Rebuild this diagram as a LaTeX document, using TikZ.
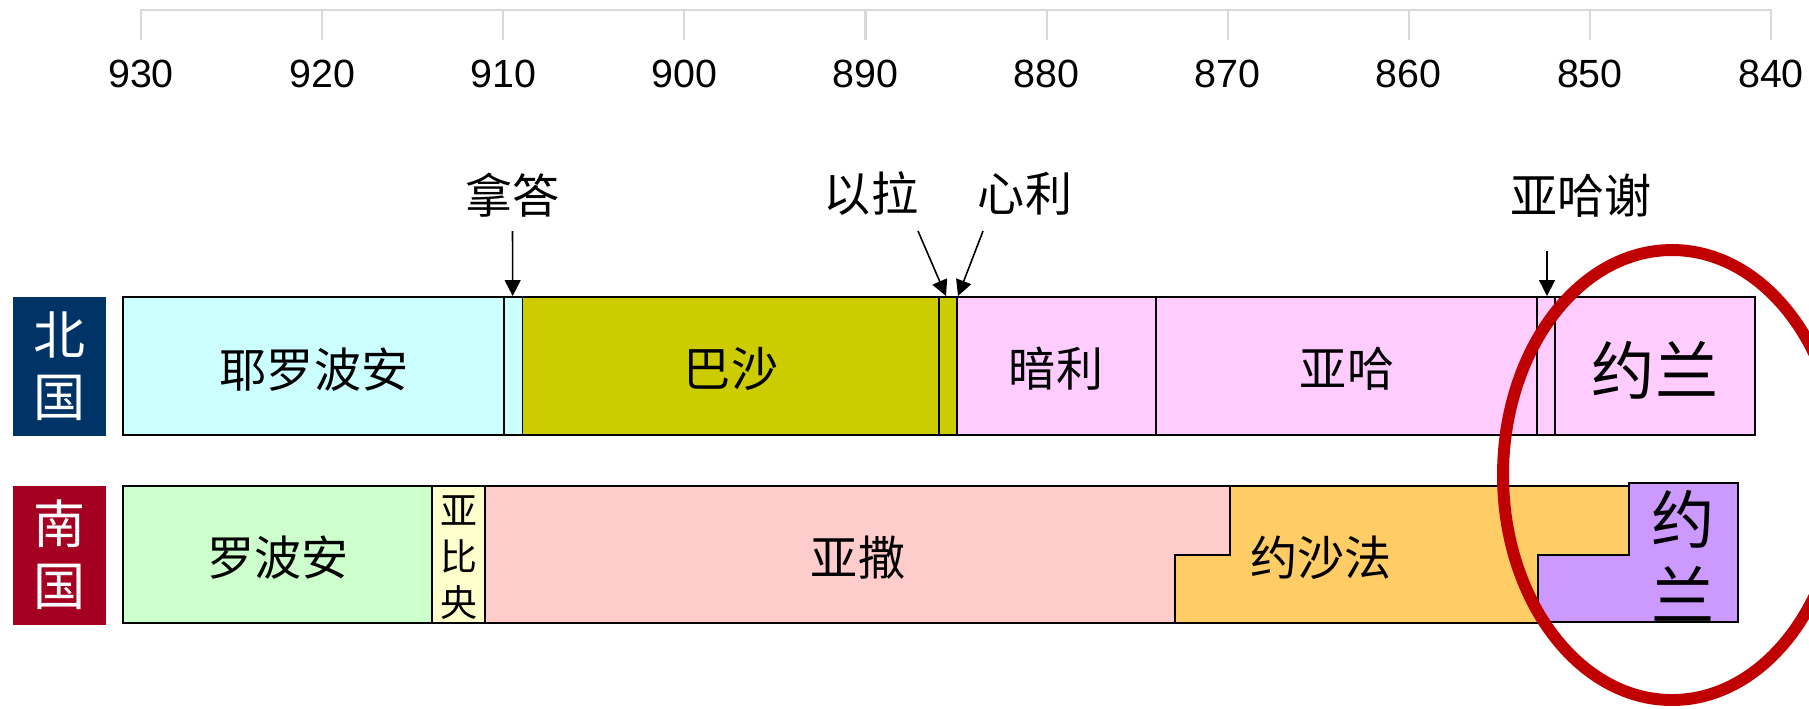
\documentclass[tikz,border=0pt]{standalone}
\usepackage{fontspec}
\setmainfont{Liberation Sans}
\newfontfamily\cjk{Noto Sans CJK SC}
\usetikzlibrary{arrows.meta}

\definecolor{axisgray}{HTML}{D9D9D9}
\definecolor{northblue}{HTML}{003366}
\definecolor{southred}{HTML}{A50021}
\definecolor{jerocyan}{HTML}{CCFFFF}
\definecolor{baashaolive}{HTML}{CCCC00}
\definecolor{omripink}{HTML}{FFCCFF}
\definecolor{rehogreen}{HTML}{CCFFCC}
\definecolor{abijahyellow}{HTML}{FFFFCC}
\definecolor{asasalmon}{HTML}{FFCCCC}
\definecolor{jehoshorange}{HTML}{FFCC66}
\definecolor{jorampurple}{HTML}{CC99FF}
\definecolor{ringred}{HTML}{C00000}

\tikzset{
  seg/.style={draw=black, line width=0.5pt},
  year/.style={font=\fontsize{11.2}{13}\selectfont, inner sep=0pt},
  king/.style={font=\cjk\fontsize{13.4}{16}\selectfont, inner sep=0pt},
  bigking/.style={font=\cjk\fontsize{18}{21.6}\selectfont, inner sep=0pt, align=center},
  realm/.style={font=\cjk\fontsize{14.8}{17.6}\selectfont, text=white, align=center,
    minimum width=9.3mm, minimum height=13.9mm, inner sep=0pt},
  pointer/.style={-{Triangle[width=4.5pt,length=4.5pt]}, line width=0.45pt},
}

\begin{document}
\begin{tikzpicture}[x=0.1mm, y=-0.1mm]
  \useasboundingbox (0,0) rectangle (1809,708);

  \draw[axisgray, line width=0.6pt] (141,40) -- (141,10) -- (1771,10) -- (1771,40);
  \foreach \i in {1,...,8}
    \draw[axisgray, line width=0.6pt] (141+181.11*\i,10) -- ++(0,30);
  \foreach \i in {0,...,9} {
    \pgfmathtruncatemacro\yr{930-10*\i}
    \node[year] (yr\i) at (141+181.11*\i,74) {\yr};
  }

  \node[realm, fill=northblue] (north) at (59.5,366.5) {北\\国};
  \node[realm, fill=southred] (south) at (59.5,555) {南\\国};

  \filldraw[seg, fill=jerocyan] (123,297) rectangle (504,435);
  \filldraw[seg, fill=jerocyan] (504,297) rectangle (522.5,435);
  \filldraw[seg, fill=baashaolive] (522.5,297) rectangle (939,435);
  \filldraw[seg, fill=baashaolive] (939,297) rectangle (957,435);
  \filldraw[seg, fill=omripink] (957,297) rectangle (1156,435);
  \filldraw[seg, fill=omripink] (1156,297) rectangle (1537,435);
  \filldraw[seg, fill=omripink] (1537,297) rectangle (1555,435);
  \filldraw[seg, fill=omripink] (1555,297) rectangle (1755,435);

  \filldraw[seg, fill=rehogreen] (123,486) rectangle (432,623);
  \filldraw[seg, fill=abijahyellow] (432,486) rectangle (485,623);
  \filldraw[seg, fill=asasalmon] (485,486) -- (1230,486) -- (1230,555) -- (1175,555)
    -- (1175,623) -- (485,623) -- cycle;
  \filldraw[seg, fill=jehoshorange] (1230,486) -- (1629,486) -- (1629,555) -- (1538,555)
    -- (1538,623) -- (1175,623) -- (1175,555) -- (1230,555) -- cycle;
  \filldraw[seg, fill=jorampurple] (1538,555) -- (1629,555) -- (1629,483) -- (1738,483)
    -- (1738,622) -- (1538,622) -- cycle;

  \node[king] (jeroboam) at (314,370) {耶罗波安};
  \node[king] (baasha) at (731,369) {巴沙};
  \node[king] (omri) at (1056,369) {暗利};
  \node[king] (ahab) at (1347,369) {亚哈};
  \node[bigking] (joramN) at (1655,370) {约兰};
  \node[king] (rehoboam) at (278,558) {罗波安};
  \node[king, font=\cjk\fontsize{10.5}{13.1}\selectfont, align=center] (abijah) at (459,558) {亚\\比\\央};
  \node[king] (asa) at (858,558) {亚撒};
  \node[king] (jehoshaphat) at (1321,558) {约沙法};
  \node[bigking] (joramS) at (1683,556) {约\\兰};

  \node[king] (nadab) at (512.5,195) {拿答};
  \node[king] (elah) at (871,194) {以拉};
  \node[king] (zimri) at (1025,194) {心利};
  \node[king] (ahaziah) at (1581,196) {亚哈谢};

  \coordinate (nadabTip) at (512.7,296);
  \coordinate (elahTip) at (946,296);
  \coordinate (zimriTip) at (958,296);
  \coordinate (ahaziahTip) at (1547,296);

  \draw[pointer] (nadab) ++(0,36) -- (nadabTip);
  \draw[pointer] (elah) ++(47,37) -- (elahTip);
  \draw[pointer] (zimri) ++(-42,37) -- (zimriTip);
  \draw[pointer] (ahaziah) ++(-34,55) -- (ahaziahTip);

  \draw[ringred, line width=3.4pt] (1672,475) ellipse [x radius=16.9mm, y radius=22.5mm];
\end{tikzpicture}
\end{document}
